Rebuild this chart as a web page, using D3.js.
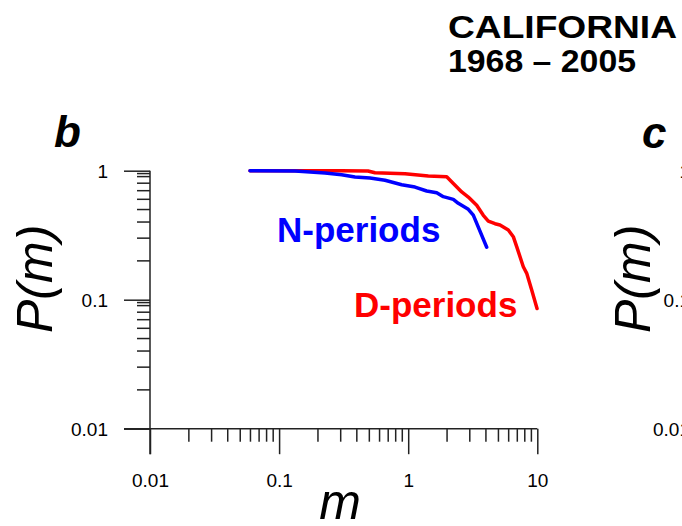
<!DOCTYPE html>
<html>
<head>
<meta charset="utf-8">
<script src="https://cdn.jsdelivr.net/npm/d3@7"></script>
<style>
  html, body { margin: 0; padding: 0; background: #fff; }
  svg { display: block; }
  svg text { font-family: Arial, "Liberation Sans", Helvetica, sans-serif; }
</style>
</head>
<body>
<svg id="chart" width="682" height="526"></svg>
<script>
// Cumulative distribution P(m) of event sizes, California 1968 – 2005
const nPeriodsM = [0.0595, 0.133, 0.227, 0.305, 0.387, 0.506, 0.661, 0.891, 1.129, 1.391, 1.663, 1.871, 2.236, 2.444, 2.921, 3.193, 4.056];
const nPeriodsP = [1.0, 0.995, 0.960, 0.931, 0.894, 0.878, 0.843, 0.779, 0.747, 0.696, 0.675, 0.629, 0.600, 0.559, 0.502, 0.453, 0.255];

const dPeriodsM = [0.0595, 0.15, 0.3, 0.488, 0.553, 0.945, 1.431, 1.987, 2.236, 2.597, 2.921, 3.393, 3.817, 4.174, 4.703, 5.141, 5.963, 6.518, 6.924, 7.79, 8.28, 9.05, 9.95];
const dPeriodsP = [1.0, 1.0, 0.997, 0.995, 0.965, 0.948, 0.910, 0.897, 0.796, 0.684, 0.625, 0.539, 0.451, 0.407, 0.388, 0.379, 0.347, 0.308, 0.258, 0.180, 0.160, 0.119, 0.0855];

const xTickLabels = [0.01, 0.1, 1, 10];
const yTickLabels = [1, 0.1, 0.01];
const xMinorFactors = [2, 3, 4, 5, 6, 7, 8, 9];
const yMinorFactors = [2, 3, 4, 5, 6, 7, 8, 9, 9.5];

const svg = d3.select("#chart");
const fontFamily = 'Arial, "Liberation Sans", Helvetica, sans-serif';

const x = d3.scaleLog().domain([0.01, 10]).range([150, 537.3]);
const y = d3.scaleLog().domain([0.01, 1]).range([428.7, 170.7]);

const axisColor = "#222";
const majorLen = 25.5, minorLen = 13;

// minor tick positions per decade
const xMinor = [];
[0.01, 0.1, 1].forEach(d => xMinorFactors.forEach(f => xMinor.push(d * f)));
const yMinor = [];
[0.01, 0.1].forEach(d => yMinorFactors.forEach(f => yMinor.push(d * f)));

// x axis (ticks point downward)
const xAxis = d3.axisBottom(x).tickValues(xTickLabels).tickSize(majorLen).tickSizeOuter(0)
  .tickFormat(d => String(d));
const gx = svg.append("g").attr("transform", `translate(0,${y(0.01)})`).call(xAxis)
  .attr("font-family", fontFamily).attr("font-size", 19);
gx.select(".domain").remove();
gx.selectAll(".tick line").attr("stroke", axisColor).attr("stroke-width", 1.5);
gx.selectAll(".tick text").attr("fill", "#000")
  .attr("y", 58).attr("dy", null);
gx.append("g").selectAll("line").data(xMinor).join("line")
  .attr("x1", d => x(d)).attr("x2", d => x(d)).attr("y1", 0).attr("y2", minorLen)
  .attr("stroke", axisColor).attr("stroke-width", 1.5);

// y axis (ticks point left)
const yAxis = d3.axisLeft(y).tickValues(yTickLabels).tickSize(majorLen + 0.5).tickSizeOuter(0)
  .tickFormat(d => String(d)).tickPadding(16);
const gy = svg.append("g").attr("transform", `translate(${x(0.01)},0)`).call(yAxis)
  .attr("font-family", fontFamily).attr("font-size", 19);
gy.select(".domain").remove();
gy.selectAll(".tick line").attr("stroke", axisColor).attr("stroke-width", 1.5);
gy.selectAll(".tick text").attr("fill", "#000").attr("dy", "0.36em");
gy.append("g").selectAll("line").data(yMinor).join("line")
  .attr("x1", -minorLen).attr("x2", 0).attr("y1", d => y(d)).attr("y2", d => y(d))
  .attr("stroke", axisColor).attr("stroke-width", 1.5);

// axis lines
svg.append("line")
  .attr("x1", x(0.01) - majorLen - 0.5).attr("x2", x(10))
  .attr("y1", y(0.01)).attr("y2", y(0.01))
  .attr("stroke", axisColor).attr("stroke-width", 1.5);
svg.append("line")
  .attr("x1", x(0.01)).attr("x2", x(0.01))
  .attr("y1", y(1)).attr("y2", y(0.01) + majorLen)
  .attr("stroke", axisColor).attr("stroke-width", 1.5);

// curves
const line = d3.line().x(d => x(d[0])).y(d => y(d[1]));
const dSeries = d3.zip(dPeriodsM, dPeriodsP);
const nSeries = d3.zip(nPeriodsM, nPeriodsP);
svg.append("path").datum(dSeries).attr("d", line)
  .attr("fill", "none").attr("stroke", "#ff0000").attr("stroke-width", 3.5)
  .attr("stroke-linejoin", "round").attr("stroke-linecap", "round");
svg.append("path").datum(nSeries).attr("d", line)
  .attr("fill", "none").attr("stroke", "#0000ff").attr("stroke-width", 3.5)
  .attr("stroke-linejoin", "round").attr("stroke-linecap", "round");

// series labels
svg.append("text").attr("x", 277).attr("y", 241.5).attr("font-size", 35).attr("font-weight", "bold")
  .attr("fill", "#0000ff").text("N-periods");
svg.append("text").attr("x", 354).attr("y", 317).attr("font-size", 35).attr("font-weight", "bold")
  .attr("fill", "#ff0000").text("D-periods");

// axis titles
svg.append("text").attr("x", 340).attr("y", 519).attr("text-anchor", "middle")
  .attr("font-size", 50).attr("font-style", "italic").text("m");
svg.append("text").attr("transform", "translate(52,333) rotate(-90)")
  .attr("font-size", 50).attr("font-style", "italic").text("P(m)");

// panel letter
svg.append("text").attr("x", 54).attr("y", 147).attr("font-size", 44)
  .attr("font-weight", "bold").attr("font-style", "italic").text("b");

// title
svg.append("text").attr("x", 448).attr("y", 37.5).attr("font-size", 31).attr("font-weight", "bold")
  .attr("textLength", 229).attr("lengthAdjust", "spacingAndGlyphs").text("CALIFORNIA");
svg.append("text").attr("x", 448).attr("y", 71.5).attr("font-size", 31).attr("font-weight", "bold")
  .attr("textLength", 188).attr("lengthAdjust", "spacingAndGlyphs").text("1968 – 2005");

// neighbouring panel c (cut off at the right edge)
svg.append("text").attr("x", 642).attr("y", 148).attr("font-size", 44)
  .attr("font-weight", "bold").attr("font-style", "italic").text("c");
svg.append("text").attr("transform", "translate(650,333) rotate(-90)")
  .attr("font-size", 50).attr("font-style", "italic").text("P(m)");
svg.append("g").selectAll("text").data(yTickLabels).join("text")
  .attr("x", 690).attr("y", d => y(d)).attr("dy", "0.36em").attr("text-anchor", "end")
  .attr("font-size", 19).text(d => String(d));
</script>
</body>
</html>
